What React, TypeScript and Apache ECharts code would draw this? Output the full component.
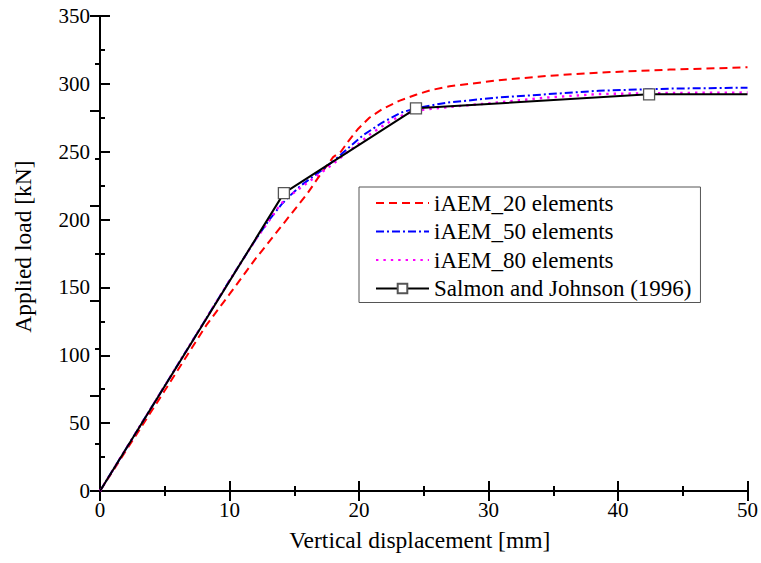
import React, { useEffect, useRef } from "react";
import * as echarts from "echarts";

const seriesNames = [
  "iAEM_20 elements",
  "iAEM_50 elements",
  "iAEM_80 elements",
  "Salmon and Johnson (1996)",
];

// [displacement mm, load kN]
const iaem20: number[][] = [
  [0, 0], [2.5, 37], [5, 74], [7, 104], [8.2, 122], [10, 145], [12, 171],
  [14, 195], [16, 219], [17, 233], [18, 246], [18.6, 250], [19.2, 258],
  [19.9, 266.5], [20.8, 275], [21.8, 281.4], [23.1, 287.5], [24.4, 292],
  [25.6, 295.5], [27, 298.2], [30.8, 302.7], [34.6, 305.9], [38.5, 308.3],
  [44, 310.5], [50, 312.2],
];
const iaem50: number[][] = [
  [0, 0], [2, 31], [4, 62], [6, 93], [8, 124], [10, 155], [12, 185],
  [13, 199], [14, 211], [14.6, 217], [15.5, 225], [16.5, 232], [17.5, 239],
  [18.5, 247], [19.2, 253], [20.3, 262], [21.8, 271.5], [23.3, 279],
  [24.4, 282], [25.5, 284], [26.9, 286.3], [30.8, 290], [34.6, 292.4],
  [38.5, 294.9], [44, 296.5], [50, 297.2],
];
const iaem80: number[][] = [
  [0, 0], [2, 31], [4, 62], [6, 93], [8, 124], [10, 155], [12, 185],
  [14, 212], [15, 220], [16, 227], [17, 234], [18, 241], [19, 249],
  [20, 256], [20.8, 262.5], [22, 270], [23, 275.5], [24.1, 279.5],
  [25, 281], [27, 283], [29.5, 285.2], [34.6, 290], [38.5, 292.5],
  [44, 293.3], [50, 293.6],
];
const salmon: number[][] = [
  [0, 0], [14.2, 219.5], [24.4, 282], [42.4, 292.3], [50, 292.3],
];
const salmonMarked = [false, true, true, true, false];

const xMin = 0, xMax = 50, xInterval = 10;
const yMin = 0, yMax = 350, yInterval = 50;
const yRightInterval = 70;

const FONT = "Liberation Serif";

export default function App() {
  const ref = useRef<HTMLDivElement>(null);
  useEffect(() => {
    if (!ref.current) return;
    const chart = echarts.init(ref.current, undefined, { renderer: "svg" });
    const axisLine = { show: true, lineStyle: { color: "#000", width: 2 } };
    const tickStyle = { color: "#000", width: 2 };
    const hiddenIcon = { opacity: 0, color: "rgba(0,0,0,0)", borderWidth: 0 };
    chart.setOption({
      animation: false,
      backgroundColor: "#fff",
      grid: { left: 100, right: 12, top: 16, bottom: 72, containLabel: false },
      legend: {
        orient: "vertical",
        left: 359,
        top: 187,
        data: [
          { name: seriesNames[0], itemStyle: hiddenIcon },
          { name: seriesNames[1], itemStyle: hiddenIcon },
          { name: seriesNames[2], itemStyle: hiddenIcon },
          { name: seriesNames[3] },
        ],
        itemWidth: 53,
        itemHeight: 12,
        itemGap: 5.5,
        padding: [4.5, 9, 2.5, 16],
        borderColor: "#555",
        borderWidth: 1,
        backgroundColor: "#fff",
        textStyle: { fontFamily: FONT, fontSize: 23, color: "#000", lineHeight: 23 },
      },
      xAxis: [
        {
          type: "value",
          min: xMin,
          max: xMax,
          interval: xInterval,
          name: "Vertical displacement [mm]",
          nameLocation: "middle",
          nameGap: 37,
          nameTextStyle: {
            fontFamily: FONT,
            fontSize: 23.5,
            color: "#000",
            padding: [0, 8, 0, 0],
          },
          axisLine,
          axisTick: { show: true, inside: true, length: 10, lineStyle: tickStyle },
          minorTick: { show: true, splitNumber: 2, length: 5, lineStyle: tickStyle },
          splitLine: { show: false },
          axisLabel: { fontFamily: FONT, fontSize: 21, color: "#000", margin: 8 },
        },
        {
          type: "value",
          position: "top",
          min: xMin,
          max: xMax,
          interval: xInterval,
          axisLine,
          axisTick: { show: true, inside: true, length: 10, lineStyle: tickStyle },
          minorTick: { show: true, splitNumber: 2, length: 5, lineStyle: tickStyle },
          splitLine: { show: false },
          axisLabel: { show: false },
        },
      ],
      yAxis: [
        {
          type: "value",
          min: yMin,
          max: yMax,
          interval: yInterval,
          name: "Applied load [kN]",
          nameLocation: "middle",
          nameGap: 65,
          nameTextStyle: {
            fontFamily: FONT,
            fontSize: 23.5,
            color: "#000",
            padding: [0, 0, 0, 14],
          },
          axisLine,
          axisTick: { show: true, inside: true, length: 10, lineStyle: tickStyle },
          minorTick: { show: true, splitNumber: 2, length: 5, lineStyle: tickStyle },
          splitLine: { show: false },
          axisLabel: { fontFamily: FONT, fontSize: 21, color: "#000", margin: 10 },
        },
        {
          type: "value",
          position: "right",
          min: yMin,
          max: yMax,
          interval: yRightInterval,
          axisLine,
          axisTick: { show: true, inside: true, length: 10, lineStyle: tickStyle },
          minorTick: { show: true, splitNumber: 2, length: 5, lineStyle: tickStyle },
          splitLine: { show: false },
          axisLabel: { show: false },
        },
      ],
      series: [
        {
          name: seriesNames[0],
          type: "line",
          data: iaem20,
          symbol: "none",
          lineStyle: { color: "#ff0000", width: 2, type: [8, 5] },
          itemStyle: { color: "#ff0000" },
        },
        {
          name: seriesNames[1],
          type: "line",
          data: iaem50,
          symbol: "none",
          lineStyle: { color: "#0000ff", width: 2, type: [8, 3, 2, 3] },
          itemStyle: { color: "#0000ff" },
        },
        {
          name: seriesNames[2],
          type: "line",
          data: iaem80,
          symbol: "none",
          lineStyle: { color: "#ff00ff", width: 2.4, type: [2.4, 5] },
          itemStyle: { color: "#ff00ff" },
        },
        {
          name: seriesNames[3],
          type: "line",
          data: salmon.map((p, i) => ({
            value: p,
            symbol: salmonMarked[i] ? "rect" : "none",
          })),
          symbol: "rect",
          symbolSize: 11,
          showAllSymbol: true,
          z: 5,
          lineStyle: { color: "#000", width: 2 },
          itemStyle: { color: "#fff", borderColor: "#555", borderWidth: 1.3 },
        },
      ],
    });
    return () => chart.dispose();
  }, []);
  return (
    <div
      ref={ref}
      style={{ position: "fixed", left: 0, top: 0, width: 761, height: 563 }}
    />
  );
}
